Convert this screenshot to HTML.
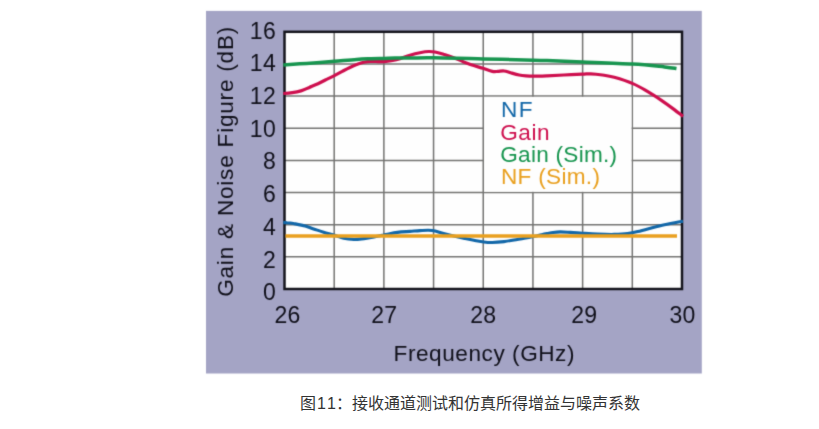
<!DOCTYPE html>
<html lang="zh"><head><meta charset="utf-8"><title>图11</title>
<style>html,body{margin:0;padding:0;background:#fff}body{width:819px;height:429px;overflow:hidden;position:relative}svg{display:block;position:absolute;left:0;top:0}text{font-family:"Liberation Sans",sans-serif}</style>
</head><body>
<svg width="819" height="429" viewBox="0 0 819 429">
<defs><filter id="soft" x="-2%" y="-2%" width="104%" height="104%" color-interpolation-filters="sRGB"><feConvolveMatrix order="3" kernelMatrix="0.0196 0.1008 0.0196 0.1008 0.5184 0.1008 0.0196 0.1008 0.0196" divisor="1" edgeMode="duplicate" preserveAlpha="false"/></filter></defs>
<g id="chart" filter="url(#soft)">
<rect x="206" y="10.9" width="495.8" height="362.6" fill="#A4A4C5"/>
<g id="plot">
<rect x="284.5" y="31.8" width="397.5" height="257.2" fill="#fefefe"/>
<path d="M334.19,31.80V289.00M383.88,31.80V289.00M433.56,31.80V289.00M483.25,31.80V289.00M532.94,31.80V289.00M582.62,31.80V289.00M632.31,31.80V289.00M284.50,63.95H682.00M284.50,96.10H682.00M284.50,128.25H682.00M284.50,160.40H682.00M284.50,192.55H682.00M284.50,224.70H682.00M284.50,256.85H682.00" stroke="#737371" stroke-width="1.5" fill="none"/>
<rect x="484.00" y="96.85" width="147.56" height="94.95" fill="#fefefe"/>
<rect x="284.5" y="31.8" width="397.5" height="257.2" fill="none" stroke="#14141c" stroke-width="2.5"/>
<g fill="none" stroke-linecap="butt" stroke-linejoin="round" stroke-width="3.5">
<path d="M283.3,93.5C284.8,93.4 289.4,93.1 292.3,92.7C295.2,92.3 298.0,91.8 300.9,90.9C303.8,90.0 306.5,88.6 309.4,87.4C312.2,86.2 315.1,85.0 318.0,83.7C320.9,82.4 323.9,80.8 326.6,79.4C329.3,78.1 331.8,76.9 334.4,75.6C337.0,74.2 339.8,72.6 342.3,71.3C344.8,70.0 347.0,68.8 349.4,67.7C351.8,66.6 354.2,65.5 356.6,64.6C359.0,63.7 361.3,62.8 363.7,62.2C366.1,61.7 368.5,61.4 370.9,61.3C373.3,61.2 375.9,61.5 378.0,61.6C380.1,61.7 381.8,61.7 383.7,61.6C385.6,61.5 387.5,61.2 389.4,60.9C391.3,60.6 393.2,60.3 395.0,59.9C396.8,59.5 397.5,59.5 400.0,58.7C402.5,57.9 406.7,56.2 410.0,55.2C413.3,54.2 416.9,53.3 420.0,52.7C423.1,52.1 426.0,51.6 428.5,51.5C431.0,51.4 432.5,51.5 435.0,52.0C437.5,52.5 440.5,53.3 443.6,54.3C446.7,55.2 450.4,56.4 453.7,57.7C457.0,59.0 460.3,60.6 463.7,61.9C467.1,63.2 470.6,64.5 473.8,65.6C477.0,66.7 479.9,67.3 483.0,68.3C486.1,69.3 489.8,70.9 492.3,71.4C494.8,71.9 496.1,71.5 498.0,71.4C499.9,71.3 501.9,70.8 504.0,71.0C506.1,71.2 508.2,72.1 510.7,72.8C513.2,73.5 516.6,74.5 519.1,75.0C521.6,75.5 523.6,75.7 526.0,75.9C528.4,76.1 529.9,76.2 533.4,76.2C536.9,76.2 541.9,76.0 547.0,75.8C552.1,75.6 557.9,75.3 563.8,75.0C569.7,74.7 577.8,74.4 582.3,74.2C586.8,74.0 587.4,73.7 590.7,73.8C594.1,73.9 598.5,74.4 602.4,75.0C606.3,75.6 609.1,75.9 614.2,77.3C619.3,78.7 627.3,81.2 632.8,83.6C638.3,85.9 642.6,88.6 647.4,91.4C652.2,94.2 656.9,97.3 661.4,100.3C665.9,103.3 670.7,106.9 674.3,109.6C677.9,112.3 681.5,115.3 683.0,116.4" stroke="#CE0F4E" stroke-width="3.2"/>
<path d="M283.3,65.0C287.2,64.7 298.1,64.0 306.6,63.4C315.1,62.8 326.1,62.0 334.4,61.3C342.7,60.6 350.5,59.8 356.6,59.4C362.7,59.0 366.4,58.9 370.9,58.7C375.4,58.5 379.7,58.5 383.7,58.4C387.7,58.3 390.6,58.2 395.0,58.1C399.4,58.0 403.6,58.0 410.0,58.0C416.4,58.0 421.3,57.6 433.5,57.8C445.7,57.9 466.4,58.5 483.0,58.9C499.6,59.3 522.7,59.9 533.4,60.2C544.1,60.5 538.9,60.3 547.0,60.6C555.1,60.9 568.0,61.3 582.3,61.9C596.6,62.5 618.9,63.3 632.6,64.1C646.3,64.9 657.2,66.2 664.5,66.9C671.8,67.7 674.5,68.3 676.5,68.6" stroke="#17954F"/>
<path d="M283.3,222.6C283.9,222.6 285.3,222.5 287.0,222.7C288.7,222.8 290.4,222.9 293.4,223.5C296.4,224.1 301.8,225.1 305.2,226.0C308.6,226.9 310.5,227.9 313.6,228.9C316.7,229.9 320.4,231.2 323.7,232.2C327.0,233.2 330.3,234.0 333.7,235.0C337.1,236.0 340.4,237.6 343.8,238.3C347.2,239.1 350.5,239.4 353.9,239.5C357.3,239.6 360.6,239.0 364.0,238.6C367.4,238.2 370.6,237.5 374.0,236.9C377.4,236.3 380.2,235.7 384.1,234.9C388.0,234.2 393.2,233.0 397.5,232.4C401.8,231.8 406.2,231.7 410.0,231.4C413.8,231.1 416.9,230.8 420.0,230.6C423.1,230.4 426.0,230.1 428.5,230.2C431.0,230.3 432.7,230.5 435.2,231.1C437.7,231.7 440.5,232.8 443.6,233.6C446.7,234.4 450.4,235.3 453.7,236.1C457.0,236.9 460.3,237.6 463.7,238.3C467.1,239.0 470.4,239.7 473.8,240.3C477.2,240.9 480.8,241.6 483.9,242.0C487.0,242.4 488.9,242.6 492.3,242.5C495.7,242.4 500.4,242.0 504.0,241.6C507.6,241.2 510.7,240.6 514.1,240.0C517.5,239.4 521.0,238.9 524.2,238.3C527.4,237.7 530.3,237.1 533.4,236.4C536.5,235.8 540.3,234.9 542.6,234.4C544.9,233.9 545.3,233.9 547.0,233.6C548.7,233.3 550.8,232.8 553.0,232.5C555.2,232.2 557.5,231.9 560.4,231.9C563.3,231.9 566.9,232.2 570.5,232.4C574.1,232.6 577.8,232.9 582.3,233.2C586.8,233.5 592.1,233.9 597.4,234.1C602.7,234.3 609.2,234.5 614.2,234.4C619.2,234.3 623.7,234.1 627.6,233.6C631.5,233.1 634.4,232.4 637.7,231.6C641.1,230.8 643.2,230.0 647.7,228.9C652.2,227.8 658.6,226.1 664.5,224.8C670.4,223.5 679.9,221.8 683.0,221.2" stroke="#1267A8" stroke-width="3.1"/>
<path d="M285.5,235.9H677" stroke="#E9A01F"/>
</g>
</g>
<g font-size="22.6">
<text x="500.9" y="117.2" fill="#1267A8" letter-spacing="1.6">NF</text>
<text x="500.3" y="139.5" fill="#CE0F4E" letter-spacing="0.5">Gain</text>
<text x="500.3" y="161.8" fill="#17954F" letter-spacing="0.25">Gain (Sim.)</text>
<text x="500.9" y="184.1" fill="#E9A01F" letter-spacing="0.3">NF (Sim.)</text>
</g>
<g fill="#10101a" font-size="22">
<g text-anchor="end" letter-spacing="0.5" font-size="23">
<text x="276.4" y="38.6">16</text>
<text x="276.4" y="71.3">14</text>
<text x="276.4" y="104.0">12</text>
<text x="276.4" y="136.7">10</text>
<text x="276.4" y="169.4">8</text>
<text x="276.4" y="202.1">6</text>
<text x="276.4" y="234.8">4</text>
<text x="276.4" y="267.5">2</text>
<text x="276.4" y="300.2">0</text>
</g>
<g text-anchor="middle" letter-spacing="0.2" font-size="23">
<text x="287.5" y="322.5">26</text>
<text x="384.2" y="322.5">27</text>
<text x="483.3" y="322.5">28</text>
<text x="584.2" y="322.5">29</text>
<text x="682.6" y="322.5">30</text>
</g>
<text x="484.3" y="360.9" font-size="22.6" letter-spacing="0.55" text-anchor="middle">Frequency (GHz)</text>
<text transform="translate(233.1,161.4) rotate(-90)" font-size="22.6" letter-spacing="0.77" text-anchor="middle">Gain &amp; Noise Figure (dB)</text>
</g>
</g>
<g id="caption" fill="#333" stroke="#333" stroke-width="0.25"><title>图11：接收通道测试和仿真所得增益与噪声系数</title>
<text x="300" y="409.4" font-size="16" stroke="none" style="font-family:'Liberation Sans','Noto Sans CJK SC',sans-serif">图</text>
<text x="317.1" y="409.4" font-size="16" stroke="none">1</text><text x="327.0" y="409.4" font-size="16" stroke="none">1</text>
<text x="336" y="409.4" font-size="16" stroke="none" style="font-family:'Liberation Sans','Noto Sans CJK SC',sans-serif">：接收通道测试和仿真所得增益与噪声系数</text>
</g>
</svg>
</body></html>
